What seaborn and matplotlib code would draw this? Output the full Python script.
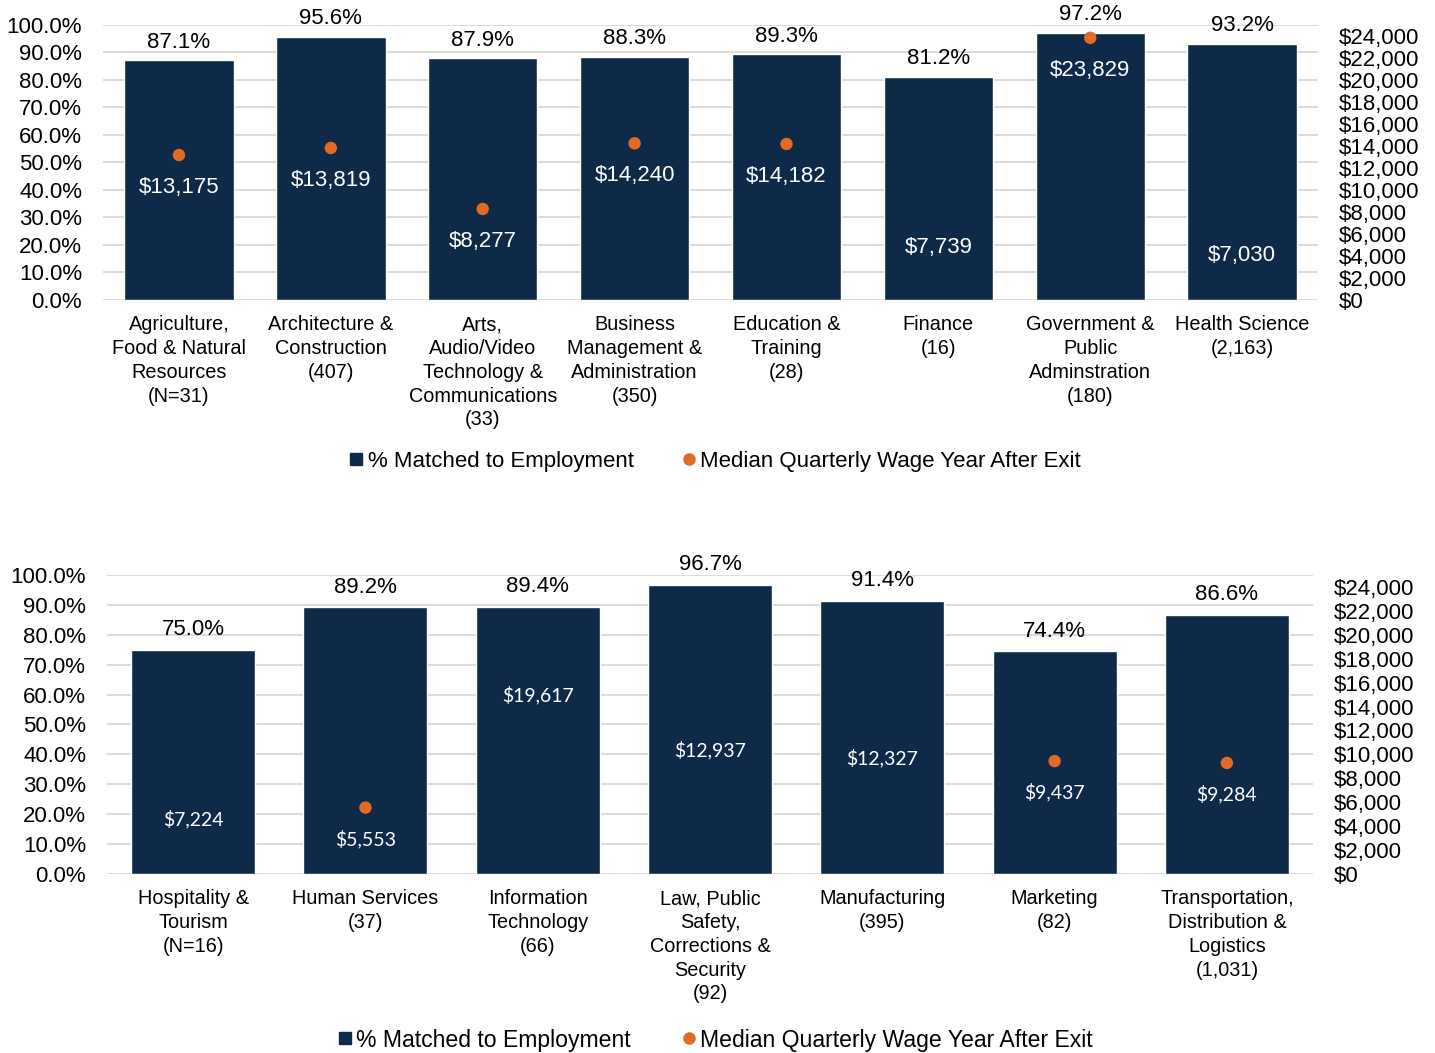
import numpy as np
import pandas as pd
import matplotlib
matplotlib.use("Agg")
import matplotlib.pyplot as plt
from matplotlib.lines import Line2D
from matplotlib.ticker import FuncFormatter, MultipleLocator
import seaborn as sns

NAVY   = "#0E2A48"
ORANGE = "#E06A26"
GRID   = "#D9D9D9"

# ── Data: upper panel ─────────────────────────────────────────────────────────
TOP_CLUSTERS = [
    "Agriculture,\nFood & Natural\nResources\n(N=31)",
    "Architecture &\nConstruction\n(407)",
    "Arts,\nAudio/Video\nTechnology &\nCommunications\n(33)",
    "Business\nManagement &\nAdministration\n(350)",
    "Education &\nTraining\n(28)",
    "Finance\n(16)",
    "Government &\nPublic\nAdminstration\n(180)",
    "Health Science\n(2,163)",
]
TOP_PCT       = [87.1, 95.6, 87.9, 88.3, 89.3, 81.2, 97.2, 93.2]
TOP_WAGE      = [13175, 13819, 8277, 14240, 14182, 7739, 23829, 7030]
TOP_DOT_SHOWN = [True, True, True, True, True, False, True, False]

# ── Data: lower panel ─────────────────────────────────────────────────────────
BOT_CLUSTERS = [
    "Hospitality &\nTourism\n(N=16)",
    "Human Services\n(37)",
    "Information\nTechnology\n(66)",
    "Law, Public\nSafety,\nCorrections &\nSecurity\n(92)",
    "Manufacturing\n(395)",
    "Marketing\n(82)",
    "Transportation,\nDistribution &\nLogistics\n(1,031)",
]
BOT_PCT       = [75.0, 89.2, 89.4, 96.7, 91.4, 74.4, 86.6]
BOT_WAGE      = [7224, 5553, 19617, 12937, 12327, 9437, 9284]
BOT_DOT_SHOWN = [False, True, False, False, False, True, True]

# label drop below the dot position, in points
TOP_LABEL_DROP = [23.5] * 8
BOT_LABEL_DROP = [22.5, 22.5, 40.0, 22.5, 22.5, 22.5, 22.5]

sns.set_theme(style="white")
plt.rcParams["font.family"] = ["Liberation Sans", "DejaVu Sans"]
plt.rcParams["text.color"] = "black"
plt.rcParams["xtick.color"] = "black"
plt.rcParams["ytick.color"] = "black"


def draw_panel(ax, clusters, pct, wage, shown, drops, wage_font, wage_size, pct_gap):
    n = len(clusters)
    df = pd.DataFrame({"cluster": clusters, "pct": pct, "wage": wage,
                       "shown": shown, "pos": np.arange(n)})
    sns.barplot(data=df, x="cluster", y="pct", color=NAVY, saturation=1,
                width=0.72, ax=ax, zorder=2)
    ax.set_xlim(-0.5, n - 0.5)
    ax.set_ylim(0, 100)
    ax.yaxis.set_major_locator(MultipleLocator(10))
    ax.yaxis.set_major_formatter(FuncFormatter(lambda v, _: f"{v:.1f}%"))
    ax.grid(axis="y", color=GRID, lw=1.3, zorder=0)
    ax.grid(axis="x", visible=False)
    ax.set_axisbelow(True)
    for s in ax.spines.values():
        s.set_visible(False)
    ax.set_xlabel(""); ax.set_ylabel("")
    ax.tick_params(axis="y", length=0, pad=15, labelsize=16)
    ax.tick_params(axis="x", length=0, pad=11, labelsize=14.3)
    for lbl in ax.get_xticklabels():
        lbl.set_linespacing(1.32)

    for i, v in enumerate(pct):
        ax.annotate(f"{v:.1f}%", (i, v), xytext=(0, pct_gap), textcoords="offset points",
                    ha="center", va="bottom", fontsize=16)

    ax2 = ax.twinx()
    vis = df[df["shown"]]
    sns.scatterplot(data=vis, x="pos", y="wage", color=ORANGE, s=80,
                    edgecolor="none", ax=ax2, zorder=3, legend=False)
    ax2.set_xlim(-0.5, n - 0.5)
    ax2.set_ylim(0, 25000)
    ax2.set_yticks(np.arange(0, 24001, 2000))
    ax2.yaxis.set_major_formatter(FuncFormatter(lambda v, _: f"${v:,.0f}"))
    ax2.tick_params(axis="y", length=0, pad=15, labelsize=16)
    ax2.set_xlabel(""); ax2.set_ylabel("")
    ax2.grid(False)
    for s in ax2.spines.values():
        s.set_visible(False)

    for i, w in enumerate(wage):
        ax2.annotate(f"${w:,}", (i, w), xytext=(0, -drops[i]),
                     textcoords="offset points", ha="center", va="center",
                     color="white", fontsize=wage_size, family=wage_font)
    return ax2


fig = plt.figure(figsize=(14.35, 10.53), dpi=100)
ax_top = fig.add_axes([0.0718, 0.7151, 0.8467, 0.2612])
ax_bot = fig.add_axes([0.0746, 0.1700, 0.8404, 0.2840])

draw_panel(ax_top, TOP_CLUSTERS, TOP_PCT, TOP_WAGE, TOP_DOT_SHOWN,
           TOP_LABEL_DROP, ["Liberation Sans", "DejaVu Sans"], 16, 5.5)
draw_panel(ax_bot, BOT_CLUSTERS, BOT_PCT, BOT_WAGE, BOT_DOT_SHOWN,
           BOT_LABEL_DROP, ["Lato", "DejaVu Sans"], 14, 7)

handles = [
    Line2D([], [], marker="s", color=NAVY, linestyle="none", markersize=8),
    Line2D([], [], marker="o", color=ORANGE, linestyle="none", markersize=8),
]
names = ["% Matched to Employment", "Median Quarterly Wage Year After Exit"]
for y, fs in [(1 - 461 / 1053, 16), (1 - 1040 / 1053, 16.6)]:
    fig.legend(handles, names, loc="center", bbox_to_anchor=(0.4985, y),
               ncol=2, frameon=False, fontsize=fs, handlelength=0.6,
               handletextpad=0.2, columnspacing=2.2, borderaxespad=0)

plt.savefig("out.png", dpi=100)
plt.close()
